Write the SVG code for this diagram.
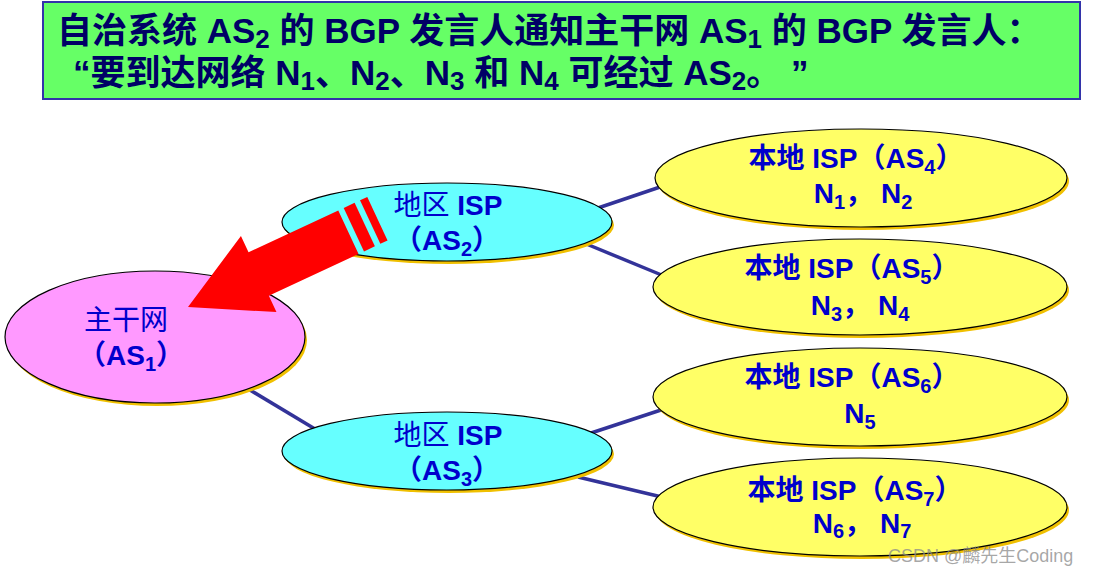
<svg xmlns="http://www.w3.org/2000/svg" width="1094" height="569" viewBox="0 0 1094 569">
<style>
.title{font-family:"Liberation Sans","Noto Sans CJK SC",sans-serif;font-weight:bold;font-size:35px;fill:#000066}
.tsub{font-size:26px}
.lbl{font-family:"Liberation Sans","Noto Sans CJK SC",sans-serif;font-weight:bold;font-size:28px;fill:#0000CC;text-anchor:middle}
.cjk{font-weight:normal}
.sub{font-size:20px}
.shadow{fill:#F0C000}
.edge{stroke:#000;stroke-width:1.2}
.conn{stroke:#333399;stroke-width:3.5;fill:none}
.wm{font-family:"Liberation Sans","Noto Sans CJK SC",sans-serif;font-size:18px;fill:#8a8a8a;fill-opacity:0.75}
</style>
<rect width="1094" height="569" fill="#fff"/>
<g id="title">
<rect x="43" y="2" width="1037" height="97" fill="#66FF66" stroke="#3333AA" stroke-width="2"/>
<text class="title" x="57" y="43">自治系统 AS<tspan class="tsub" dy="5">2</tspan><tspan dy="-5"> 的 BGP 发言人通知主干网 AS</tspan><tspan class="tsub" dy="5">1</tspan><tspan dy="-5"> 的 BGP 发言人：</tspan></text>
<text class="title" x="73" y="85">“要到达网络 N<tspan class="tsub" dy="5">1</tspan><tspan dy="-5">、N</tspan><tspan class="tsub" dy="5">2</tspan><tspan dy="-5">、N</tspan><tspan class="tsub" dy="5">3</tspan><tspan dy="-5"> 和 N</tspan><tspan class="tsub" dy="5">4</tspan><tspan dy="-5"> 可经过 AS</tspan><tspan class="tsub" dy="5">2</tspan><tspan dy="-5">。 ”</tspan></text>
</g>
<g id="connectors">
<line class="conn" x1="245" y1="387" x2="320" y2="432"/>
<line class="conn" x1="595" y1="209" x2="666" y2="185"/>
<line class="conn" x1="584" y1="243" x2="664" y2="276"/>
<line class="conn" x1="585" y1="435" x2="664" y2="409"/>
<line class="conn" x1="578" y1="477" x2="666" y2="498"/>
</g>
<g id="as1">
<ellipse class="shadow" cx="157" cy="340" rx="150" ry="66"/>
<ellipse class="edge" cx="155" cy="337" rx="150" ry="66" fill="#FF99FF"/>
<text class="lbl" x="126" y="330"><tspan class="cjk">主干网</tspan></text>
<text class="lbl" x="131" y="365">（AS<tspan class="sub" dy="6">1</tspan><tspan dy="-6">）</tspan></text>
</g>
<g id="as2">
<ellipse class="shadow" cx="449" cy="225" rx="165" ry="39"/>
<ellipse class="edge" cx="447" cy="222" rx="165" ry="39" fill="#66FFFF"/>
<text class="lbl" x="448" y="215"><tspan class="cjk">地区</tspan> ISP</text>
<text class="lbl" x="447" y="250">（AS<tspan class="sub" dy="6">2</tspan><tspan dy="-6">）</tspan></text>
</g>
<g id="as3">
<ellipse class="shadow" cx="449" cy="454" rx="165" ry="39"/>
<ellipse class="edge" cx="447" cy="451" rx="165" ry="39" fill="#66FFFF"/>
<text class="lbl" x="448" y="445"><tspan class="cjk">地区</tspan> ISP</text>
<text class="lbl" x="447" y="480">（AS<tspan class="sub" dy="6">3</tspan><tspan dy="-6">）</tspan></text>
</g>
<g id="as4">
<ellipse class="shadow" cx="863" cy="181" rx="206" ry="49"/>
<ellipse class="edge" cx="861" cy="178" rx="206" ry="49" fill="#FFFF66"/>
<text class="lbl" x="856" y="168">本地 ISP（AS<tspan class="sub" dy="6">4</tspan><tspan dy="-6">）</tspan></text>
<text class="lbl" x="863" y="203">N<tspan class="sub" dy="6">1</tspan><tspan dy="-6">， N</tspan><tspan class="sub" dy="6">2</tspan></text>
</g>
<g id="as5">
<ellipse class="shadow" cx="862" cy="290" rx="207" ry="48"/>
<ellipse class="edge" cx="860" cy="287" rx="207" ry="48" fill="#FFFF66"/>
<text class="lbl" x="852" y="278">本地 ISP（AS<tspan class="sub" dy="6">5</tspan><tspan dy="-6">）</tspan></text>
<text class="lbl" x="860" y="315">N<tspan class="sub" dy="6">3</tspan><tspan dy="-6">， N</tspan><tspan class="sub" dy="6">4</tspan></text>
</g>
<g id="as6">
<ellipse class="shadow" cx="862" cy="400" rx="207" ry="49"/>
<ellipse class="edge" cx="860" cy="397" rx="207" ry="49" fill="#FFFF66"/>
<text class="lbl" x="852" y="387">本地 ISP（AS<tspan class="sub" dy="6">6</tspan><tspan dy="-6">）</tspan></text>
<text class="lbl" x="860" y="423">N<tspan class="sub" dy="6">5</tspan></text>
</g>
<g id="as7">
<ellipse class="shadow" cx="862" cy="510" rx="207" ry="49"/>
<ellipse class="edge" cx="860" cy="507" rx="207" ry="49" fill="#FFFF66"/>
<text class="lbl" x="855" y="500">本地 ISP（AS<tspan class="sub" dy="6">7</tspan><tspan dy="-6">）</tspan></text>
<text class="lbl" x="862" y="533">N<tspan class="sub" dy="5">6</tspan><tspan dy="-5">， N</tspan><tspan class="sub" dy="5">7</tspan></text>
</g>
<g id="arrow" transform="translate(188,307) rotate(-25)" fill="#FF0000">
<polygon points="0,0 78,-42 78,-24 177,-24 177,24 78,24 78,42"/>
<rect x="183" y="-24" width="12" height="48"/>
<rect x="201" y="-24" width="8" height="48"/>
</g>
<text class="wm" x="888" y="562">CSDN @麟先生Coding</text>
</svg>
